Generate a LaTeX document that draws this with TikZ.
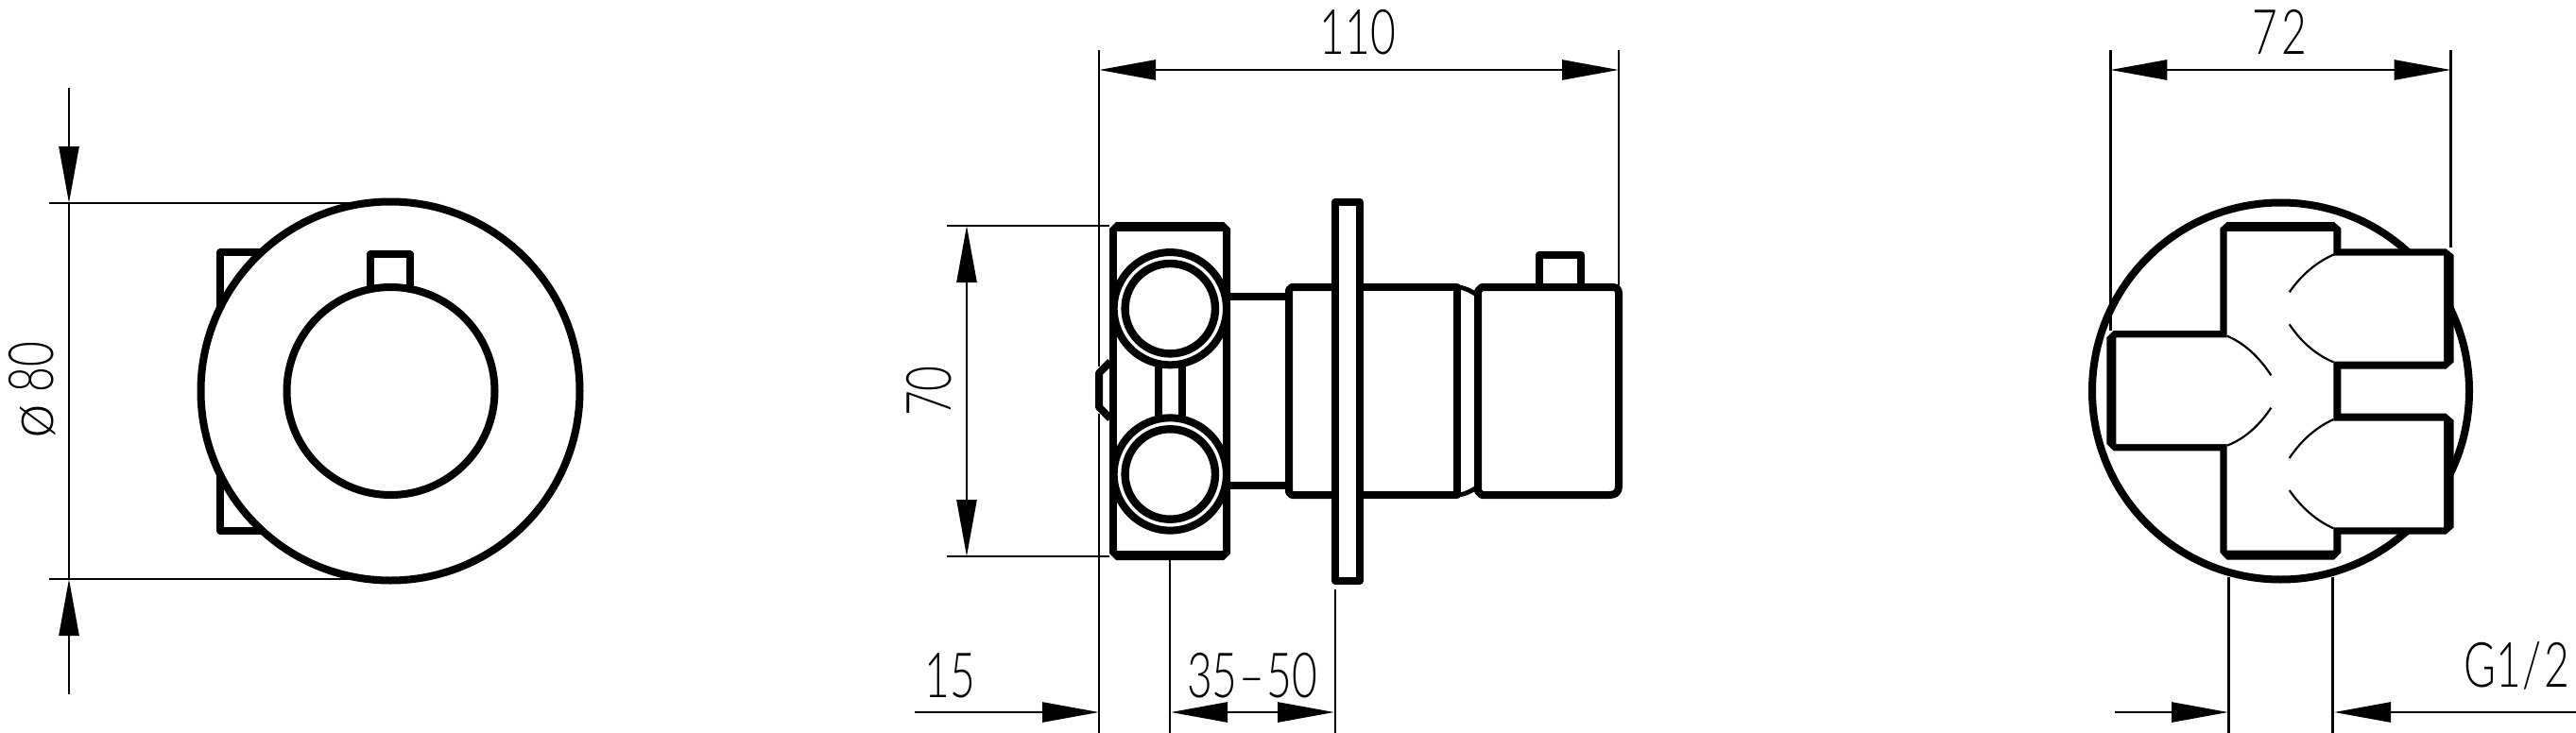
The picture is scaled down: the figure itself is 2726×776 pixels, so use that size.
\documentclass[tikz,border=0pt]{standalone}
\usepackage{fontspec}
\setmainfont{Lato Light}[FakeStretch=0.7]
\newfontfamily\diafont{Lato Light}
\usetikzlibrary{arrows.meta}
\tikzset{
  thin line/.style={line width=1.35pt,line cap=butt},
  dim/.style={thin line,{Triangle[length=30pt,width=10.5pt]}-{Triangle[length=30pt,width=10.5pt]}},
  dimend/.style={thin line,-{Triangle[length=30pt,width=10.5pt]}},
  outl/.style={line width=4pt,line join=round,line cap=butt},
  hair/.style={line width=1.1pt},
  lab/.style={inner sep=0pt,anchor=base,font=\fontsize{33}{33}\selectfont}
}
\begin{document}
\begin{tikzpicture}[x=0.5pt,y=-0.5pt]
\useasboundingbox (0,0) rectangle (2726,776);
\fill[white] (0,0) rectangle (2726,776);

% ---------- left view
\draw[outl] (233,327) -- (233,267) -- (285,267);
\draw[outl] (233,500) -- (233,562) -- (285,562);
\draw[outl,fill=white] (413,414) circle[radius=200.5];
\draw[outl] (392,306) -- (392,269) -- (434,269) -- (434,306);
\draw[outl,fill=white] (413.5,414) circle[radius=110];
\coordinate (LT) at (73,215); \coordinate (LB) at (73,613);
\coordinate (LTend) at (73,93); \coordinate (LBend) at (73,735);
\coordinate (LEa) at (52,215); \coordinate (LEb) at (380,215);
\coordinate (LEc) at (52,613); \coordinate (LEd) at (380,613);
\draw[thin line] (LEa) -- (LEb);
\draw[thin line] (LEc) -- (LEd);
\draw[thin line] (LT) -- (LB);
\draw[dimend] (LTend) -- (LT);
\draw[dimend] (LBend) -- (LB);
\node[lab,rotate=90] (dia) at (56,413) {{\diafont ø}\kern 6pt 80};

% ---------- middle view: extension lines
\coordinate (E1a) at (1163,53); \coordinate (E1b) at (1163,388);
\coordinate (E1c) at (1163,438); \coordinate (E1d) at (1163,776);
\coordinate (E2a) at (1713,53); \coordinate (E2b) at (1713,302);
\draw[thin line] (E1a) -- (E1b);
\draw[thin line] (E1c) -- (E1d);
\draw[thin line] (E2a) -- (E2b);
\coordinate (D110a) at (1163,74); \coordinate (D110b) at (1713,74);
\draw[dim] (D110a) -- (D110b);
\node[lab] (t110) at (1437,57) {110};

\coordinate (E70a) at (1002,239); \coordinate (E70b) at (1174,239);
\coordinate (E70c) at (1002,589); \coordinate (E70d) at (1174,589);
\draw[thin line] (E70a) -- (E70b);
\draw[thin line] (E70c) -- (E70d);
\coordinate (D70a) at (1023,239); \coordinate (D70b) at (1023,589);
\draw[dim] (D70a) -- (D70b);
\node[lab,rotate=90] (t70) at (1006,414) {70};

% bump
\draw[outl] (1175,383) -- (1163,395) -- (1163,431) -- (1175,443);
% block
\fill (1181,235) -- (1295,235) -- (1302,242) -- (1302,586) -- (1295,593) -- (1181,593) -- (1174,586) -- (1174,242) -- cycle;
\fill[white] (1182,245) rectangle (1294,583);
% stubs
\draw[outl] (1302,313.7) -- (1362,313.7);
\draw[outl] (1302,513.7) -- (1362,513.7);
% connector between rings
\draw[outl] (1226,386) -- (1226,442);
\draw[outl] (1251,386) -- (1251,442);
% rings
\draw[outl,fill=white] (1238.3,326.7) circle[radius=59.6];
\draw[outl,line width=4.2pt,fill=white] (1238.3,326.7) circle[radius=47.7];
\draw[outl,fill=white] (1238.3,502) circle[radius=59.6];
\draw[outl,line width=4.2pt,fill=white] (1238.3,502) circle[radius=47.7];
% body
\draw[outl] (1413,304) -- (1367,304) -- (1364,307) -- (1364,521) -- (1367,524) -- (1413,524);
\draw[outl] (1439,304) -- (1542,304) -- (1542,524) -- (1439,524);
\draw[outl,line width=2.4pt] (1542,304) .. controls (1549,304) and (1557,308) .. (1564,313);
\draw[outl,line width=2.4pt] (1542,524) .. controls (1549,524) and (1557,520) .. (1564,515);
% plate
\draw[outl,fill=white] (1413,213.5) rectangle (1439,614.5);
% knob tab
\draw[outl] (1629,304) -- (1629,269.5) -- (1673,269.5) -- (1673,304);
% knob
\draw[outl,fill=white] (1568,304) -- (1706,304) .. controls (1711,304) and (1713,306) .. (1713,311)
  -- (1713,514) .. controls (1713,521) and (1710,524) .. (1703,524) -- (1568,524) -- (1564,520) -- (1564,308) -- cycle;

% bottom dims, middle view
\coordinate (E3a) at (1238,593); \coordinate (E3b) at (1238,776);
\coordinate (E4a) at (1413,624); \coordinate (E4b) at (1413,776);
\draw[thin line] (E3a) -- (E3b);
\draw[thin line] (E4a) -- (E4b);
\coordinate (D15a) at (968,754); \coordinate (D15b) at (1163,754);
\draw[dimend] (D15a) -- (D15b);
\node[lab] (t15) at (1005,738) {15};
\coordinate (D35a) at (1239,754); \coordinate (D35b) at (1412,754);
\draw[dim] (D35a) -- (D35b);
\node[lab] (t35) at (1325,738) {35\kern 1pt–\kern 1pt 50};

% ---------- right view
\draw[outl] (2413.5,414) circle[radius=199.5];
\coordinate (R1a) at (2233.3,53); \coordinate (R1b) at (2233.3,350);
\coordinate (R2a) at (2593.5,53); \coordinate (R2b) at (2593.5,262);
\draw[thin line] (R1a) -- (R1b);
\draw[thin line] (R2a) -- (R2b);
\coordinate (D72a) at (2233.3,74); \coordinate (D72b) at (2593.5,74);
\draw[dim] (D72a) -- (D72b);
\node[lab] (t72) at (2412,57) {7\kern 2pt 2};
\coordinate (R3a) at (2358.4,611); \coordinate (R3b) at (2358.4,776);
\coordinate (R4a) at (2468.5,611); \coordinate (R4b) at (2468.5,776);
\draw[thin line] (R3a) -- (R3b);
\draw[thin line] (R4a) -- (R4b);
\coordinate (DGa) at (2237.5,754); \coordinate (DGb) at (2358,754);
\coordinate (DGc) at (2726,754); \coordinate (DGd) at (2470,754);
\draw[dimend] (DGa) -- (DGb);
\draw[dimend] (DGc) -- (DGd);
\node[lab] (tg) at (2663,727) {G1\kern 1pt/\kern 1pt 2};

\begin{scope}[shift={(2200,200)},x=0.16667pt,y=-0.16667pt]
\fill (110,450) -- (448,450) -- (448,125) -- (470,105) -- (810,105) -- (832,125) -- (832,190)
  -- (1165,190) -- (1190,210) -- (1190,550) -- (1165,572) -- (832,572) -- (832,713) -- (1165,713)
  -- (1190,735) -- (1190,1075) -- (1165,1097) -- (832,1097) -- (832,1155) -- (810,1178) -- (470,1178)
  -- (448,1155) -- (448,832) -- (110,832) -- (88,810) -- (88,472) -- cycle;
\fill[white] (470,135) -- (808,135) -- (808,212) -- (1158,212) -- (1158,548) -- (808,548) -- (808,737)
  -- (1158,737) -- (1158,1075) -- (808,1075) -- (808,1148) -- (470,1148) -- (470,810) -- (118,810)
  -- (118,472) -- (470,472) -- cycle;
\draw[hair] (812,207) .. controls (754,232) and (706,273) .. (668,328);
\draw[hair] (668,430) .. controls (706,487) and (753,527) .. (808,550);
\draw[hair] (470,467) .. controls (523,489) and (570,531) .. (610,592);
\draw[hair] (610,695) .. controls (570,755) and (523,795) .. (470,815);
\draw[hair] (808,732) .. controls (753,757) and (706,798) .. (668,855);
\draw[hair] (668,957) .. controls (706,1012) and (753,1053) .. (808,1078);
\end{scope}
\end{tikzpicture}
\end{document}
